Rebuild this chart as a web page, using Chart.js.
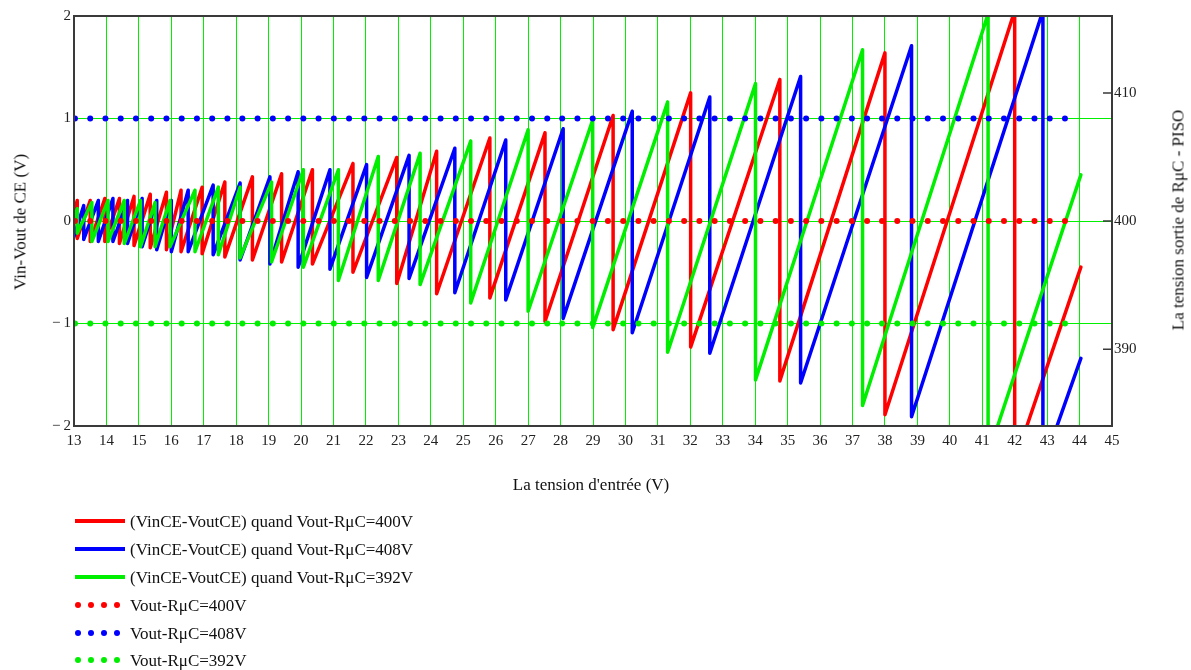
<!DOCTYPE html>
<html><head><meta charset="utf-8">
<script src="https://cdn.jsdelivr.net/npm/chart.js@4"></script>
<style>
body{margin:0;background:#fff;}
#wrap{position:relative;width:1191px;height:670px;font-family:"Liberation Serif","Times New Roman",serif;color:#111;overflow:hidden;}
canvas{position:absolute;left:0;top:0;}
.t{position:absolute;white-space:nowrap;font-size:17px;line-height:1;}
.rot{transform:translate(-50%,-50%) rotate(-90deg);}
.ctr{transform:translate(-50%,-50%);}
.lg{position:absolute;white-space:nowrap;font-size:17px;line-height:1;transform:translateY(-50%);}
.ln{position:absolute;height:4px;width:50px;transform:translateY(-50%);}
.dt{position:absolute;width:6px;height:6px;border-radius:50%;transform:translate(-50%,-50%);}
</style></head><body>
<div id="wrap"><canvas id="c" width="1191" height="670"></canvas></div>
<script>
// ---- data ----
const xTicks = [13,14,15,16,17,18,19,20,21,22,23,24,25,26,27,28,29,30,31,32,33,34,35,36,37,38,39,40,41,42,43,44,45];
const yLeftTicks = [-2,-1,0,1,2];
const yRightTicks = [390,400,410];

// series 1 : Vout-RuC = 400 V (red) — sawtooth: x of each drop, value at top, value at bottom
const redStart = [13.0, 0.08];
const redDropX = [13.1,13.5,13.95,14.4,14.85,15.35,15.85,16.3,16.95,17.65,18.5,19.4,20.35,21.6,22.95,24.18,25.82,27.52,29.62,32.01,34.76,38.0,42.0];
const redPeak  = [0.2,0.2,0.22,0.22,0.24,0.26,0.28,0.3,0.33,0.38,0.43,0.46,0.5,0.56,0.62,0.68,0.81,0.86,1.03,1.25,1.38,1.64,2.05];
const redTrough= [-0.17,-0.2,-0.2,-0.22,-0.24,-0.26,-0.28,-0.3,-0.32,-0.35,-0.38,-0.4,-0.42,-0.5,-0.61,-0.71,-0.75,-0.98,-1.06,-1.23,-1.56,-1.89,-2.35];
const redEnd = [44.04, -0.45];

// series 2 : Vout-RuC = 408 V (blue)
const blueStart = [13.0, -0.15];
const blueDropX = [13.3,13.75,14.2,14.65,15.1,15.55,16.0,16.52,17.29,18.12,19.04,19.91,20.89,22.02,23.33,24.74,26.31,28.08,30.21,32.6,35.4,38.82,42.87];
const bluePeak  = [0.15,0.2,0.22,0.2,0.22,0.2,0.2,0.3,0.35,0.37,0.43,0.48,0.5,0.55,0.64,0.71,0.79,0.9,1.07,1.21,1.41,1.71,2.05];
const blueTrough= [-0.18,-0.2,-0.2,-0.22,-0.25,-0.28,-0.3,-0.3,-0.33,-0.38,-0.42,-0.45,-0.47,-0.55,-0.56,-0.7,-0.77,-0.95,-1.09,-1.29,-1.58,-1.91,-2.39];
const blueEnd = [44.04, -1.34];

// series 3 : Vout-RuC = 392 V (green)
const greenStart = [13.0, 0.0];
const greenDropX = [13.1,13.55,14.05,14.55,15.05,15.5,15.96,16.73,17.45,18.12,19.09,20.07,21.15,22.38,23.67,25.23,27.0,28.99,31.3,34.01,37.31,41.18];
const greenPeak  = [0.12,0.18,0.2,0.2,0.2,0.18,0.2,0.3,0.33,0.33,0.38,0.5,0.5,0.63,0.66,0.78,0.89,0.985,1.16,1.34,1.67,2.02];
const greenTrough= [-0.12,-0.2,-0.2,-0.22,-0.25,-0.25,-0.25,-0.3,-0.33,-0.36,-0.4,-0.45,-0.58,-0.58,-0.62,-0.8,-0.88,-1.04,-1.28,-1.55,-1.8,-2.28];
const greenEnd = [44.04, 0.45];

// dotted reference levels (right axis, V)
const dotX = [13.03,13.5,13.97,14.44,14.91,15.38,15.85,16.32,16.79,17.26,17.73,18.19,18.66,19.13,19.6,20.07,20.54,21.01,21.48,21.95,22.42,22.89,23.36,23.83,24.3,24.77,25.24,25.71,26.18,26.65,27.12,27.59,28.05,28.52,28.99,29.46,29.93,30.4,30.87,31.34,31.81,32.28,32.75,33.22,33.69,34.16,34.63,35.1,35.57,36.04,36.51,36.98,37.45,37.91,38.38,38.85,39.32,39.79,40.26,40.73,41.2,41.67,42.14,42.61,43.08,43.55];
const dotLevels = [400, 408, 392];

const seriesNames = ["(VinCE-VoutCE) quand Vout-R\u03bcC=400V","(VinCE-VoutCE) quand Vout-R\u03bcC=408V","(VinCE-VoutCE) quand Vout-R\u03bcC=392V"];
const dotNames = ["Vout-R\u03bcC=400V","Vout-R\u03bcC=408V","Vout-R\u03bcC=392V"];
const colors = ["#ff0000","#0000ff","#00ee00"];

// ---- build datasets ----
function saw(start, dx, pk, tr, end){
  const pts = [{x:start[0], y:start[1]}];
  for (let i=0;i<dx.length;i++){ pts.push({x:dx[i], y:pk[i]}); pts.push({x:dx[i], y:tr[i]}); }
  pts.push({x:end[0], y:end[1]});
  return pts;
}
const sawSets = [
  saw(redStart, redDropX, redPeak, redTrough, redEnd),
  saw(blueStart, blueDropX, bluePeak, blueTrough, blueEnd),
  saw(greenStart, greenDropX, greenPeak, greenTrough, greenEnd)
];
const datasets = [];
dotLevels.forEach((lv,i)=>{
  datasets.push({label:dotNames[i], data:dotX.map(x=>({x, y:lv})), yAxisID:'y2', showLine:false,
    pointRadius:3, pointBorderWidth:0, pointBackgroundColor:colors[i], borderColor:colors[i], order:0});
});
sawSets.forEach((d,i)=>{
  datasets.push({label:seriesNames[i], data:d, yAxisID:'y', borderColor:colors[i], borderWidth:3.5,
    pointRadius:0, tension:0, borderJoinStyle:'round', borderCapStyle:'round', clip:0, order:3-i});
});

const serif = "'Liberation Serif','Times New Roman',serif";
const tickFont = {family:serif, size:15};
const gridGreen = "#00f000";
function fmt(v){ return v<0 ? "\u2212\u2009"+Math.abs(v) : String(v); }

const framePlugin = {
  id:'frame',
  afterDraw(chart){
    const {ctx, chartArea:a} = chart;
    const y2 = chart.scales.y2;
    ctx.save();
    ctx.strokeStyle = '#3a3a3a'; ctx.lineWidth = 2;
    ctx.strokeRect(a.left, a.top, a.right-a.left, a.bottom-a.top);
    ctx.beginPath();
    yRightTicks.forEach(v=>{ const p = y2.getPixelForValue(v); ctx.moveTo(a.right-9, p); ctx.lineTo(a.right, p); });
    ctx.lineWidth = 1.5;
    ctx.stroke();
    ctx.restore();
  }
};

new Chart(document.getElementById('c'), {
  type:'line',
  data:{datasets},
  options:{
    responsive:false, animation:false, parsing:true, normalized:true,
    layout:{padding:{top:16,left:0,right:0,bottom:0}},
    plugins:{legend:{display:false}, tooltip:{enabled:false}},
    scales:{
      x:{type:'linear', min:13, max:45,
        afterBuildTicks:s=>{ s.ticks = xTicks.map(v=>({value:v})); },
        afterFit:s=>{ s.height = 244; },
        ticks:{font:tickFont, color:'#222', padding:6, maxRotation:0, autoSkip:false},
        grid:{color:gridGreen, lineWidth:1, drawTicks:false},
        border:{display:false}},
      y:{type:'linear', position:'left', min:-2, max:2,
        afterBuildTicks:s=>{ s.ticks = yLeftTicks.map(v=>({value:v})); },
        afterFit:s=>{ s.width = 74; },
        ticks:{font:tickFont, color:'#222', padding:3, callback:fmt},
        grid:{color:gridGreen, lineWidth:1, drawTicks:false},
        border:{display:false}},
      y2:{type:'linear', position:'right', min:384, max:416,
        afterBuildTicks:s=>{ s.ticks = yRightTicks.map(v=>({value:v})); },
        afterFit:s=>{ s.width = 79; },
        ticks:{font:tickFont, color:'#222', padding:2},
        grid:{drawOnChartArea:false, drawTicks:false},
        border:{display:false}}
    }
  },
  plugins:[framePlugin]
});

// ---- titles and legend as real text ----
const wrap = document.getElementById('wrap');
function addText(cls, txt, left, top){
  const d = document.createElement('div'); d.className = cls; d.textContent = txt;
  d.style.left = left+'px'; d.style.top = top+'px'; wrap.appendChild(d); return d;
}
addText('t ctr', "La tension d'entr\u00e9e (V)", 591, 484);
addText('t rot', "Vin-Vout de CE (V)", 20, 222);
addText('t rot', "La tension sortie de R\u03bcC - PISO", 1178, 220);

const legendRows = [521, 549, 577, 605, 633, 660];
seriesNames.forEach((n,i)=>{
  const l = document.createElement('div'); l.className='ln'; l.style.left='75px'; l.style.top=legendRows[i]+'px'; l.style.background=colors[i]; wrap.appendChild(l);
  addText('lg', n, 130, legendRows[i]);
});
dotNames.forEach((n,i)=>{
  [78,91,104,117].forEach(x=>{
    const d = document.createElement('div'); d.className='dt'; d.style.left=x+'px'; d.style.top=legendRows[3+i]+'px'; d.style.background=colors[i]; wrap.appendChild(d);
  });
  addText('lg', n, 130, legendRows[3+i]);
});
</script>
</body></html>
